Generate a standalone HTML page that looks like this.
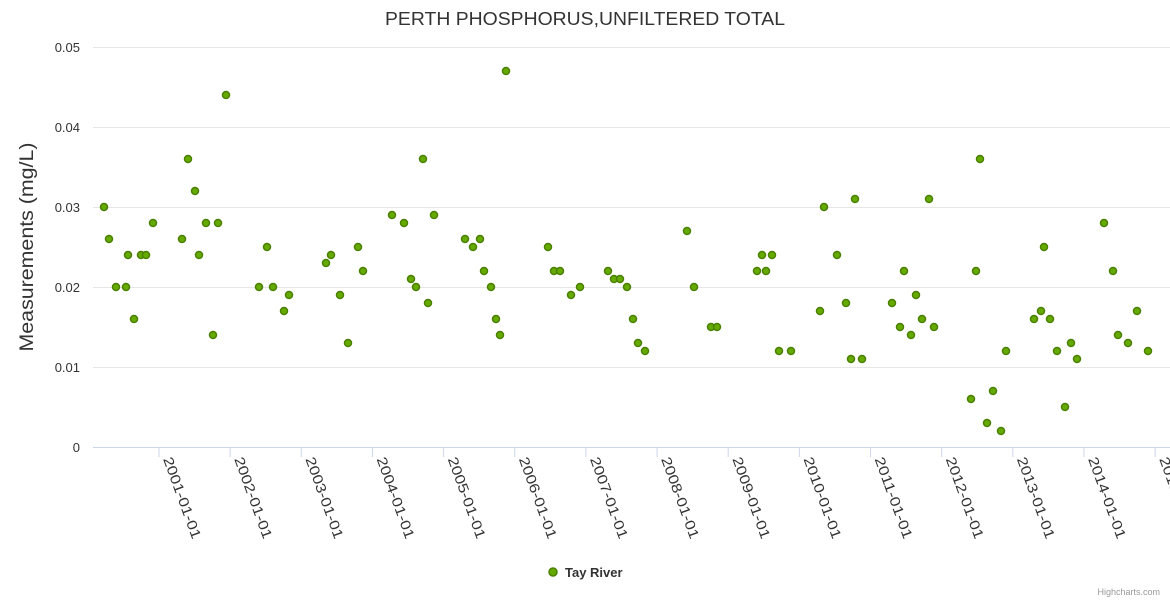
<!DOCTYPE html>
<html><head><meta charset="utf-8"><style>
html,body{margin:0;padding:0;background:#fff;}
svg{display:block;font-family:"Liberation Sans",sans-serif;}
</style></head><body>
<svg width="1170" height="600" viewBox="0 0 1170 600">
<text x="585" y="25" text-anchor="middle" font-size="18" fill="#333" textLength="400" lengthAdjust="spacingAndGlyphs">PERTH PHOSPHORUS,UNFILTERED TOTAL</text>
<g stroke="#e6e6e6" stroke-width="1">
<line x1="93" x2="1170" y1="47.5" y2="47.5"/><line x1="93" x2="1170" y1="127.5" y2="127.5"/>
<line x1="93" x2="1170" y1="207.5" y2="207.5"/><line x1="93" x2="1170" y1="287.5" y2="287.5"/>
<line x1="93" x2="1170" y1="367.5" y2="367.5"/>
</g>
<line x1="93" x2="1170" y1="447.5" y2="447.5" stroke="#ccd6eb"/>
<g font-size="13" fill="#333" text-anchor="end">
<text x="80" y="52">0.05</text><text x="80" y="132">0.04</text><text x="80" y="212">0.03</text>
<text x="80" y="292">0.02</text><text x="80" y="372">0.01</text><text x="80" y="452">0</text>
</g>
<text transform="translate(33,247) rotate(-90)" text-anchor="middle" font-size="19" fill="#333" textLength="209" lengthAdjust="spacingAndGlyphs">Measurements (mg/L)</text>
<g id="ticks" stroke="#ccd6eb"></g>
<g id="xl" font-size="14" fill="#333"></g>
<g id="pts" fill="#66aa00" stroke="#4a8000" stroke-width="1.5"></g>
<circle cx="553" cy="572" r="4" fill="#66aa00" stroke="#4a8000" stroke-width="1.5"/>
<text x="565" y="577" font-size="13" font-weight="bold" fill="#333">Tay River</text>
<text x="1160" y="595" text-anchor="end" font-size="9" fill="#999">Highcharts.com</text>
</svg>
<script>
var ns="http://www.w3.org/2000/svg";
var t=document.getElementById("ticks"),xl=document.getElementById("xl");
for(var i=0;i<15;i++){var x=159+i*71.15;
var l=document.createElementNS(ns,"line");l.setAttribute("x1",x);l.setAttribute("x2",x);l.setAttribute("y1",447);l.setAttribute("y2",457);t.appendChild(l);
var s=document.createElementNS(ns,"text");s.setAttribute("transform","translate("+(x+4)+",459) rotate(70)");s.setAttribute("textLength","86");s.setAttribute("lengthAdjust","spacingAndGlyphs");s.textContent=(2001+i)+"-01-01";xl.appendChild(s);}
var d=[[104,.030],[109,.026],[116,.020],[126,.020],[128,.024],[134,.016],[141,.024],[146,.024],[153,.028],[182,.026],[188,.036],[195,.032],[199,.024],[206,.028],[213,.014],[218,.028],[226,.044],[259,.020],[267,.025],[273,.020],[284,.017],[289,.019],[326,.023],[331,.024],[340,.019],[348,.013],[358,.025],[363,.022],[392,.029],[404,.028],[411,.021],[416,.020],[423,.036],[428,.018],[434,.029],[465,.026],[473,.025],[480,.026],[484,.022],[491,.020],[496,.016],[500,.014],[506,.047],[548,.025],[554,.022],[560,.022],[571,.019],[580,.020],[608,.022],[614,.021],[620,.021],[627,.020],[633,.016],[638,.013],[645,.012],[687,.027],[694,.020],[711,.015],[717,.015],[757,.022],[762,.024],[766,.022],[772,.024],[779,.012],[791,.012],[820,.017],[824,.030],[837,.024],[846,.018],[851,.011],[855,.031],[862,.011],[892,.018],[900,.015],[904,.022],[911,.014],[916,.019],[922,.016],[929,.031],[934,.015],[971,.006],[976,.022],[980,.036],[987,.003],[993,.007],[1001,.002],[1006,.012],[1034,.016],[1041,.017],[1044,.025],[1050,.016],[1057,.012],[1065,.005],[1071,.013],[1077,.011],[1104,.028],[1113,.022],[1118,.014],[1128,.013],[1137,.017],[1148,.012]];
var p=document.getElementById("pts");
d.forEach(function(a){var c=document.createElementNS(ns,"circle");c.setAttribute("cx",a[0]);c.setAttribute("cy",447-a[1]*8000);c.setAttribute("r",3.5);p.appendChild(c);});
</script>
</body></html>
